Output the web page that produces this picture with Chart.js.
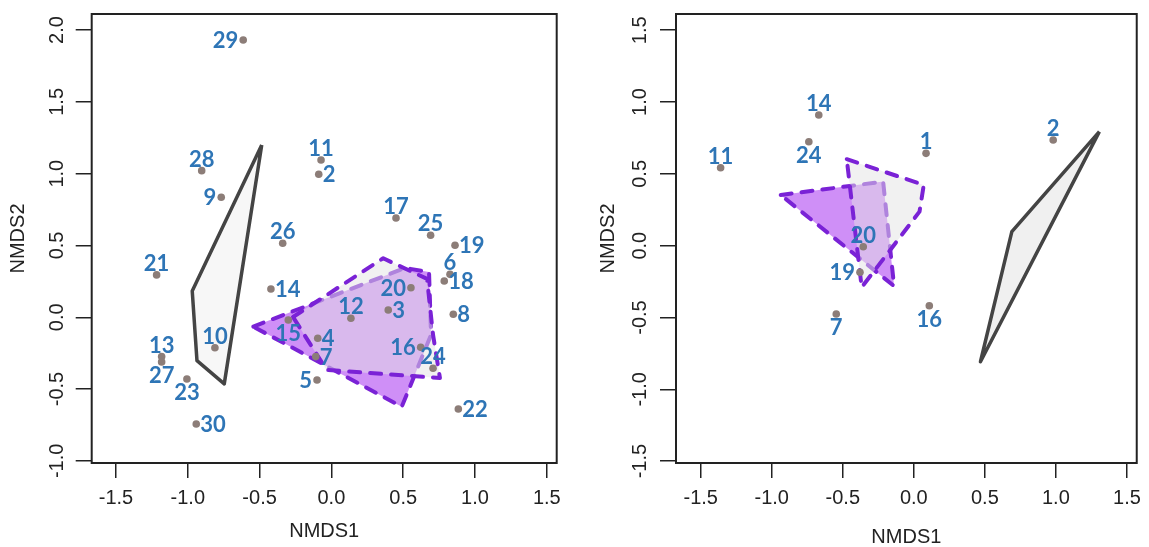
<!DOCTYPE html>
<html lang="en">
<head>
<meta charset="UTF-8">
<title>NMDS</title>
<script src="https://cdn.jsdelivr.net/npm/chart.js"></script>
<style>
  body { margin: 0; background: #fff; overflow: hidden; }
  .panel { position: absolute; top: 0; width: 574px; height: 547px; }
</style>
</head>
<body>
<div class="panel" style="left:0"><canvas id="left" width="574" height="547"></canvas></div>
<div class="panel" style="left:575px"><canvas id="right" width="574" height="547"></canvas></div>

<script>
// ---- left panel: site scores ----
const leftIds = [29, 28, 9, 11, 2, 17, 25, 19, 26, 21, 6, 18, 20, 14, 3, 8, 12, 15, 4, 10, 16, 7, 13, 27, 24, 23, 5, 22, 30];
const leftX = [-0.614, -0.903, -0.767, -0.072, -0.088, 0.450, 0.691, 0.861, -0.339, -1.217, 0.826, 0.786, 0.554, -0.421, 0.396, 0.849, 0.136, -0.300, -0.095, -0.811, 0.622, -0.109, -1.182, -1.182, 0.708, -1.006, -0.100, 0.884, -0.941];
const leftY = [1.931, 1.021, 0.836, 1.095, 0.996, 0.691, 0.571, 0.501, 0.515, 0.295, 0.299, 0.253, 0.206, 0.197, 0.051, 0.021, -0.007, -0.019, -0.146, -0.212, -0.209, -0.274, -0.274, -0.311, -0.355, -0.430, -0.437, -0.639, -0.743];
// label side like R text(pos=): 1 below, 2 left, 3 above, 4 right
const leftSide = [2, 3, 2, 3, 4, 3, 3, 4, 3, 3, 3, 4, 2, 4, 4, 4, 3, 1, 4, 3, 2, 4, 3, 1, 3, 1, 2, 4, 4];

// left panel hulls
const leftGrayX = [-0.485, -0.969, -0.936, -0.746];
const leftGrayY = [1.200, 0.183, -0.302, -0.464];
const leftPurpleX = [-0.544, 0.513, 0.680, 0.694, 0.490];
const leftPurpleY = [-0.065, 0.343, 0.315, -0.123, -0.623];
const leftDashX = [-0.267, 0.361, 0.666, 0.708, 0.756, -0.033];
const leftDashY = [0.002, 0.411, 0.267, -0.123, -0.423, -0.367];

// ---- right panel: site scores ----
const rightIds = [14, 24, 11, 1, 2, 20, 19, 7, 16];
const rightX = [-0.669, -0.739, -1.360, 0.086, 0.981, -0.356, -0.379, -0.546, 0.109];
const rightY = [0.910, 0.724, 0.543, 0.643, 0.736, -0.007, -0.185, -0.476, -0.418];
const rightSide = [3, 1, 3, 3, 3, 3, 2, 1, 1];

// right panel hulls
const rightGrayX = [1.306, 0.690, 0.469];
const rightGrayY = [0.794, 0.098, -0.808];
const rightPurpleX = [-0.937, -0.216, -0.139];
const rightPurpleY = [0.353, 0.446, -0.281];
const rightDashX = [-0.472, 0.070, 0.040, -0.367];
const rightDashY = [0.602, 0.423, 0.237, -0.290];

const AXIS_FONT = '"Liberation Sans", Arial, sans-serif';
const INK = '#222';

function points(xs, ys) {
  return xs.map((x, i) => ({ x: x, y: ys[i] }));
}
function polygon(xs, ys) {
  const pts = points(xs, ys);
  pts.push(pts[0]);
  return pts;
}

const boxPlugin = {
  id: 'box',
  afterDraw(chart) {
    const { ctx, chartArea: a } = chart;
    ctx.save();
    ctx.strokeStyle = INK;
    ctx.lineWidth = 2;
    ctx.strokeRect(a.left, a.top, a.right - a.left, a.bottom - a.top);
    ctx.restore();
  }
};

// y tick labels rotated like R's default axis()
function yTickPlugin(gap) {
  return {
    id: 'yTicks',
    afterDraw(chart) {
      const s = chart.scales.y, ctx = chart.ctx;
      ctx.save();
      ctx.font = '20px ' + AXIS_FONT;
      ctx.fillStyle = INK;
      ctx.textAlign = 'center';
      ctx.textBaseline = 'middle';
      s.ticks.forEach(t => {
        ctx.save();
        ctx.translate(s.right - gap, s.getPixelForValue(t.value));
        ctx.rotate(-Math.PI / 2);
        ctx.fillText(t.value.toFixed(1), 0, 0);
        ctx.restore();
      });
      ctx.restore();
    }
  };
}

function labelPlugin(ids, sides) {
  return {
    id: 'siteLabels',
    afterDatasetsDraw(chart) {
      const meta = chart.getDatasetMeta(0), ctx = chart.ctx;
      ctx.save();
      ctx.font = 'bold 22px Lato, "Open Sans", sans-serif';
      ctx.fillStyle = '#2e75b6';
      ctx.textBaseline = 'alphabetic';
      meta.data.forEach((pt, i) => {
        let x = pt.x, y = pt.y + 8;
        const side = sides[i];
        if (side === 1) { ctx.textAlign = 'center'; y += 13; }
        else if (side === 3) { ctx.textAlign = 'center'; y -= 12; }
        else if (side === 2) { ctx.textAlign = 'right'; x -= 5; }
        else { ctx.textAlign = 'left'; x += 4; }
        ctx.fillText(String(ids[i]), x, y);
      });
      ctx.restore();
    }
  };
}

function makePanel(id, p) {
  const dashed = {
    type: 'line', borderColor: '#7a22d6', borderWidth: 4, borderDash: [11, 10],
    borderCapStyle: 'round', borderJoinStyle: 'round', pointRadius: 0, tension: 0, fill: 'shape'
  };
  return new Chart(document.getElementById(id), {
    type: 'scatter',
    data: {
      datasets: [
        { data: points(p.x, p.y), pointRadius: 3.8, pointBackgroundColor: '#8c7d78', pointBorderWidth: 0, order: 0 },
        Object.assign({}, dashed, { data: polygon(p.dashX, p.dashY), backgroundColor: 'rgba(228,228,228,0.5)', order: 1 }),
        Object.assign({}, dashed, { data: polygon(p.purpleX, p.purpleY), backgroundColor: 'rgba(160,32,240,0.5)', order: 2 }),
        {
          type: 'line', data: polygon(p.grayX, p.grayY), borderColor: '#444', borderWidth: 3.5,
          borderJoinStyle: 'round', backgroundColor: p.grayFill, fill: 'shape',
          pointRadius: 0, tension: 0, order: 3
        }
      ]
    },
    options: {
      responsive: false,
      animation: false,
      devicePixelRatio: 1,
      layout: { padding: { top: 14, right: p.padRight, bottom: 0, left: 0 } },
      plugins: { legend: { display: false }, tooltip: { enabled: false } },
      scales: {
        x: {
          type: 'linear', min: p.xMin, max: p.xMax,
          afterFit: s => { s.height = 84; },
          border: { display: false },
          grid: { drawOnChartArea: false, drawTicks: true, tickLength: 15, color: INK, lineWidth: 1.5 },
          ticks: {
            stepSize: 0.5, includeBounds: false, autoSkip: false, maxRotation: 0, padding: 8,
            color: INK, font: { family: AXIS_FONT, size: 20 },
            callback: v => v.toFixed(1)
          },
          title: {
            display: true, text: 'NMDS1', color: INK,
            font: { family: AXIS_FONT, size: 20, lineHeight: 1 }, padding: { top: 0, bottom: p.xTitleGap }
          }
        },
        y: {
          type: 'linear', min: p.yMin, max: p.yMax,
          afterFit: s => { s.width = p.yWidth; },
          border: { display: false },
          grid: { drawOnChartArea: false, drawTicks: true, tickLength: 16, color: INK, lineWidth: 1.5 },
          ticks: { stepSize: 0.5, includeBounds: false, display: false },
          title: {
            display: true, text: 'NMDS2', color: INK,
            font: { family: AXIS_FONT, size: 20, lineHeight: 1 }, padding: { top: p.titleGap, bottom: 0 }
          }
        }
      }
    },
    plugins: [boxPlugin, yTickPlugin(p.tickGap), labelPlugin(p.ids, p.side)]
  });
}

makePanel('left', {
  ids: leftIds, side: leftSide, x: leftX, y: leftY,
  grayX: leftGrayX, grayY: leftGrayY, purpleX: leftPurpleX, purpleY: leftPurpleY, dashX: leftDashX, dashY: leftDashY,
  grayFill: '#f7f7f7',
  xMin: -1.669, xMax: 1.569, yMin: -1.015, yMax: 2.112,
  yWidth: 91.7, padRight: 17.3, tickGap: 34, titleGap: 8, xTitleGap: 6
});

makePanel('right', {
  ids: rightIds, side: rightSide, x: rightX, y: rightY,
  grayX: rightGrayX, grayY: rightGrayY, purpleX: rightPurpleX, purpleY: rightPurpleY, dashX: rightDashX, dashY: rightDashY,
  grayFill: '#f0f0f0',
  xMin: -1.674, xMax: 1.569, yMin: -1.513, yMax: 1.613,
  yWidth: 101, padRight: 8, tickGap: 36, titleGap: 23, xTitleGap: 0
});
</script>
</body>
</html>
